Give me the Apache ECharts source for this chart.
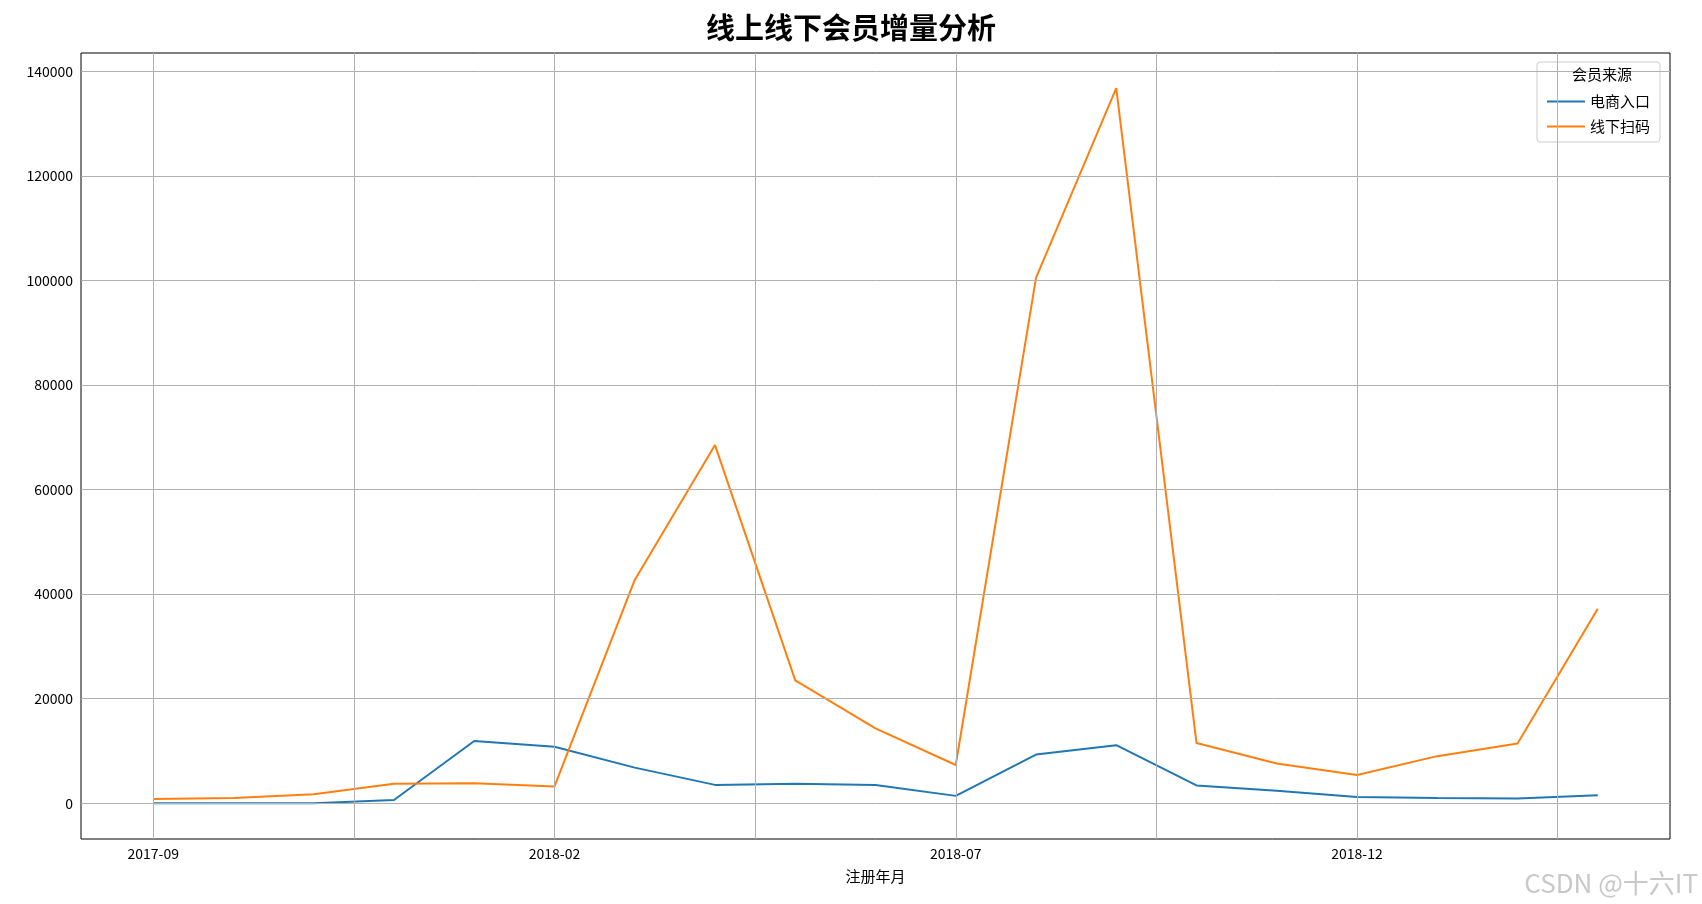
<!DOCTYPE html>
<html><head><meta charset="utf-8">
<script src="https://cdn.jsdelivr.net/npm/echarts@6/dist/echarts.min.js"></script>
<style>html,body{margin:0;padding:0;background:#fff}#c{width:1702px;height:904px}</style>
</head><body><div id="c"></div>
<script>
const months = ['2017-09','2017-10','2017-11','2017-12','2018-01','2018-02','2018-03','2018-04','2018-05','2018-06','2018-07','2018-08','2018-09','2018-10','2018-11','2018-12','2019-01','2019-02','2019-03'];
const online = [0,0,0,600,11900,10800,6800,3500,3700,3500,1400,9300,11100,3400,2400,1200,1000,900,1500];
const offline = [800,1000,1700,3700,3800,3200,42700,68500,23500,14300,7300,100500,136800,11500,7600,5400,9000,11400,37200];
const yTicks = [0,20000,40000,60000,80000,100000,120000,140000];
const xGrid = [0,2.5,5,7.5,10,12.5,15,17.5];
const xLabels = [0,5,10,15];

const font = '"Noto Sans CJK SC", sans-serif';
const chart = echarts.init(document.getElementById('c'));
const gridStyle = {color:'#b0b0b0', width:1, type:'solid'};
const markLines = {
  silent:true, symbol:'none', label:{show:false},
  lineStyle:gridStyle, animation:false,
  data: xGrid.map(v=>({xAxis:v})).concat(yTicks.map(v=>({yAxis:v})))
};
chart.setOption({
  animation:false,
  title:{text:'线上线下会员增量分析', left:'center', top:8, textStyle:{fontFamily:font, fontSize:29, fontWeight:'bold', color:'#000'}},
  grid:{left:81, right:32, top:53, bottom:65, show:true, borderColor:'#000', borderWidth:1},
  legend:{
    right:42, top:62, orient:'vertical', padding:[32,10,8,10], itemGap:10,
    borderColor:'#ccc', borderWidth:1, borderRadius:3, backgroundColor:'#fff',
    icon:'path://M0,0 L40,0 L40,2 L0,2 Z', itemWidth:38, itemHeight:2,
    textStyle:{fontFamily:font, fontSize:15, color:'#000'},
    data:['电商入口','线下扫码']
  },
  graphic:[
    {type:'text', right:70, top:67, z:100, zlevel:1, style:{text:'会员来源', font:'15px '+font, fill:'#000'}},
    {type:'text', right:4, bottom:8, z:100, style:{text:'CSDN @十六IT', font:'26px '+font, fill:'#c8c8c8'}}
  ],
  xAxis:{type:'value', min:-0.9, max:18.9, name:'注册年月', nameLocation:'middle', nameGap:30,
    nameTextStyle:{fontFamily:font, fontSize:15, color:'#000'},
    axisLine:{show:false}, splitLine:{show:false},
    axisTick:{show:true, customValues:xGrid, length:5, lineStyle:{color:'#000'}},
    axisLabel:{customValues:xLabels, formatter:v=>months[Math.round(v)], fontFamily:font, fontSize:14, color:'#000'}
  },
  yAxis:{type:'value', min:-6850, max:143500,
    axisLine:{show:false}, splitLine:{show:false},
    axisTick:{show:true, customValues:yTicks, length:5, lineStyle:{color:'#000'}},
    axisLabel:{customValues:yTicks, formatter:v=>String(v), fontFamily:font, fontSize:14, color:'#000'}
  },
  series:[
    {name:'电商入口', type:'line', data:online.map((v,i)=>[i,v]), showSymbol:false, lineStyle:{color:'#1f77b4', width:2}, itemStyle:{color:'#1f77b4'}, markLine:markLines, z:3},
    {name:'线下扫码', type:'line', data:offline.map((v,i)=>[i,v]), showSymbol:false, lineStyle:{color:'#ff7f0e', width:2}, itemStyle:{color:'#ff7f0e'}, z:4}
  ]
});
</script></body></html>
